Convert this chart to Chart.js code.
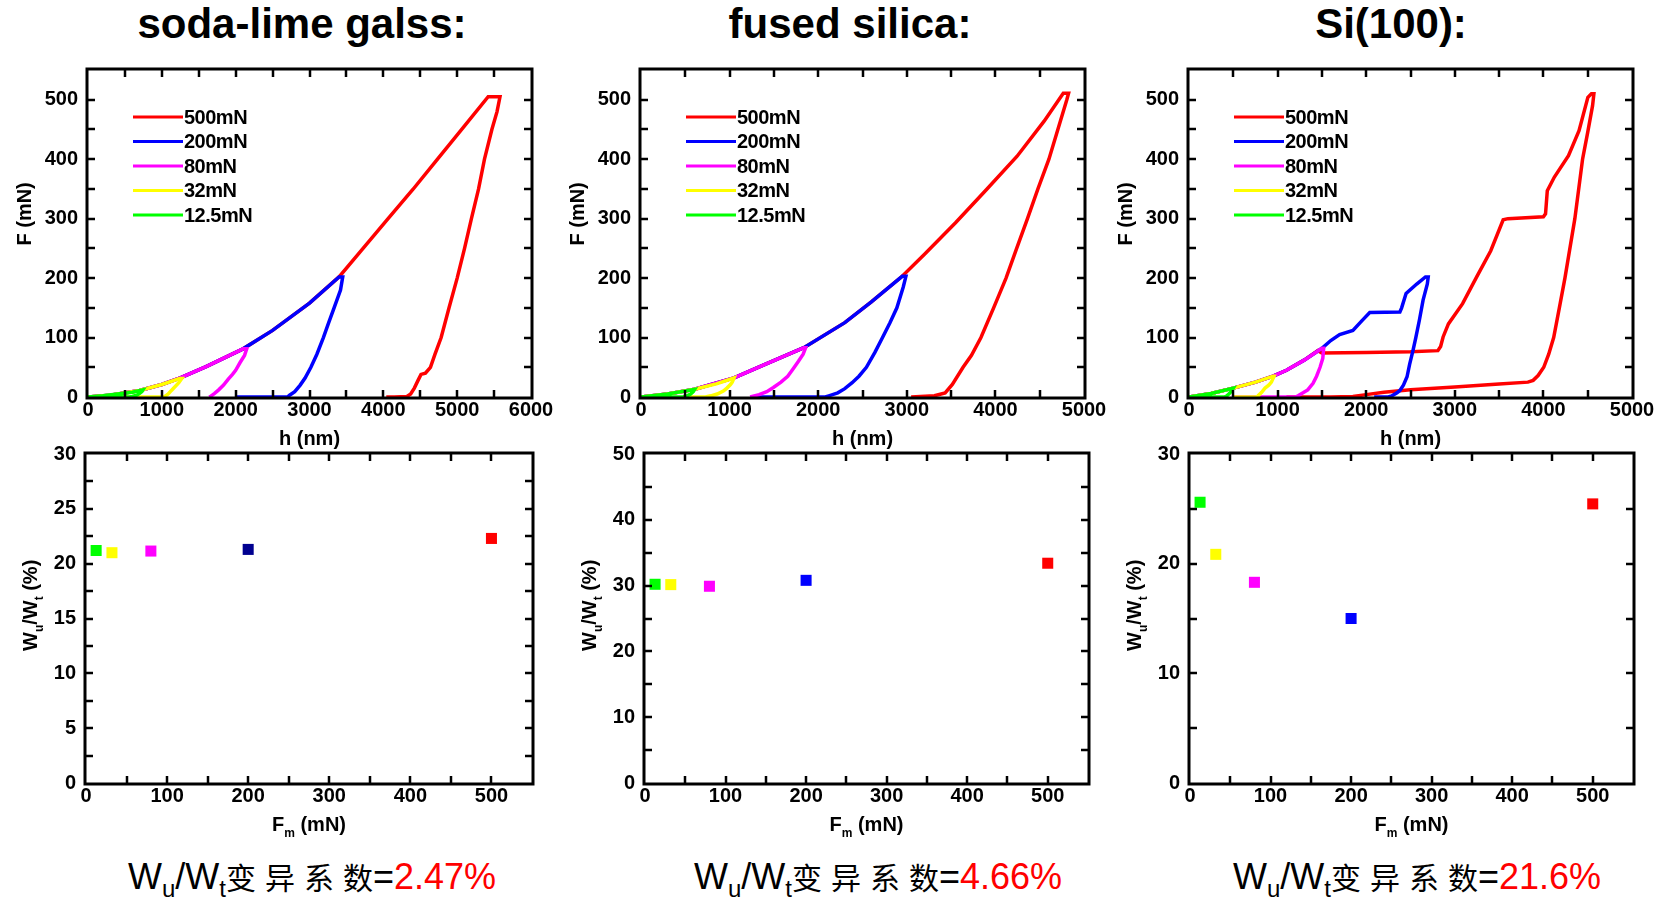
<!DOCTYPE html>
<html lang="zh">
<head>
<meta charset="UTF-8">
<title>压痕 F-h 曲线与 Wu/Wt</title>
<style>
  body { margin: 0; width: 1663px; height: 905px; background: #fff; position: relative; overflow: hidden;
         font-family: "Liberation Sans", Arial, sans-serif; }
  .panel { position: absolute; }
  .head { position: absolute; top: 0; line-height: 48px; font-weight: bold; font-size: 42px;
          transform: translateX(-50%); white-space: nowrap; }
  .note { position: absolute; top: 855px; line-height: 42px; font-size: 36px; color: #000;
          transform: translateX(-50%); white-space: nowrap; }
  .note sub { font-size: 24px; vertical-align: -8px; line-height: 0; }
  .note .cjk { font-family: "Noto Sans CJK SC", sans-serif; font-size: 30px; }
  .note .sp { letter-spacing: 9px; }
  .note .val { color: #ff0000; }
</style>
</head>
<body>
<div class="head" style="left:302px">soda-lime galss:</div>
<div class="head" style="left:850px">fused silica:</div>
<div class="head" style="left:1391px">Si(100):</div>

<div class="note" style="left:312px">W<sub>u</sub>/W<sub>t</sub><span class="cjk"><span class="sp">变异系</span>数</span>=<span class="val">2.47%</span></div>
<div class="note" style="left:878px">W<sub>u</sub>/W<sub>t</sub><span class="cjk"><span class="sp">变异系</span>数</span>=<span class="val">4.66%</span></div>
<div class="note" style="left:1417px">W<sub>u</sub>/W<sub>t</sub><span class="cjk"><span class="sp">变异系</span>数</span>=<span class="val">21.6%</span></div>

<script src="https://cdn.jsdelivr.net/npm/chart.js"></script>
<script>
const FONT = '"Liberation Sans", Arial, sans-serif';

const loadLabels = ['500mN', '200mN', '80mN', '32mN', '12.5mN'];
const lineColors = ['#ff0000', '#0000ff', '#ff00ff', '#ffff00', '#00ff00'];

// soda-lime glass, [h (nm), F (mN)]
const sodaRed = [[0,0],[300,3],[700,11],[1000,21],[1250,32],[1600,51],[2100,81],[2500,112],[3000,158],[3400,202],
  [3700,246],[4050,298],[4400,349],[4720,398],[5100,456],[5420,505],[5580,505],
  [5540,480],[5470,450],[5370,400],[5290,350],[5193,300],[5100,250],[5000,200],[4890,150],[4783,100],
  [4700,72],[4638,50],[4570,40],[4510,38],[4470,28],[4420,15],[4370,5],[4320,1],[4150,0],[4040,0]];
const sodaBlue = [[0,0],[300,3],[700,11],[1000,21],[1250,32],[1600,51],[2100,81],[2500,112],[3000,158],[3400,202],
  [3450,202],[3420,180],[3333,150],[3260,125],[3188,100],[3100,72],[3019,50],[2940,32],[2874,20],[2800,9],
  [2730,3],[2700,0],[2400,0],[2000,0]];
const sodaMagenta = [[0,0],[300,3],[700,11],[1000,21],[1250,32],[1600,51],[2100,81],[2150,81],
  [2120,70],[2060,58],[2000,45],[1957,38],[1900,30],[1836,20],[1770,12],[1715,6],[1660,1],[1640,0]];
const sodaYellow = [[0,0],[300,3],[700,11],[1000,21],[1240,31],[1270,31],
  [1230,24],[1184,18],[1130,11],[1087,5],[1040,1],[1014,0],[480,0]];
const sodaGreen = [[0,0],[200,2],[400,5],[600,8],[745,12],[730,9],[700,6],[660,3],[600,1],[560,0],[300,0],[0,0]];

// fused silica
const fusedRed = [[0,0],[300,5],[606,13],[1050,32],[1400,55],[1838,83],[2300,125],[2600,160],[2948,203],[3200,240],
  [3550,293],[3900,349],[4245,405],[4550,464],[4766,511],[4826,511],
  [4806,500],[4705,450],[4604,400],[4480,350],[4362,300],[4240,250],[4120,200],[3980,150],[3837,100],
  [3730,70],[3635,50],[3514,21],[3433,7],[3312,2],[3049,0]];
const fusedBlue = [[0,0],[300,5],[606,13],[1050,32],[1400,55],[1838,83],[2300,125],[2600,160],[2948,203],
  [2990,203],[2960,185],[2888,150],[2810,125],[2726,100],[2640,75],[2544,50],[2460,35],[2383,24],[2300,14],
  [2221,7],[2120,2],[2080,0],[1300,0]];
const fusedMagenta = [[0,0],[300,5],[606,13],[1050,32],[1400,55],[1838,83],[1858,83],
  [1830,72],[1777,60],[1720,48],[1656,35],[1580,25],[1494,16],[1420,9],[1333,4],[1232,0]];
const fusedYellow = [[0,0],[300,5],[606,13],[850,22],[1050,32],[1060,32],
  [1030,25],[1010,21],[970,15],[929,10],[860,5],[788,2],[727,0],[480,0]];
const fusedGreen = [[0,0],[300,5],[606,13],[590,9],[560,5],[520,2],[480,0],[200,0]];

// Si(100): pop-in plateaus on loading
const siRed = [[0,0],[250,6],[500,15],[750,25],[950,35],[1100,45],[1300,62],[1454,78],
  [1500,74],[2000,75],[2500,76],[2809,78],[2840,85],[2868,101],[2928,123],[3088,157],[3247,202],[3406,246],
  [3546,298],[3600,300],[4000,303],[4024,308],[4044,347],[4124,370],[4283,406],[4402,448],[4502,504],[4542,510],[4570,510],
  [4555,490],[4500,445],[4442,400],[4355,300],[4243,200],[4180,150],[4116,100],[4060,72],[4004,50],[3940,36],
  [3884,28],[3825,25],[3500,22],[3000,17],[2500,12],[2200,8],[2000,4],[1850,1],[1600,0],[1100,0]];
const siBlue = [[0,0],[250,6],[500,15],[750,25],[950,35],[1100,45],[1300,62],[1500,82],
  [1600,95],[1700,105],[1850,112],[1950,128],[2040,142],[2380,143],[2400,150],[2450,174],[2570,190],[2669,202],[2700,202],
  [2690,190],[2642,163],[2600,129],[2560,100],[2529,79],[2490,55],[2461,34],[2420,20],[2380,11],[2348,7],
  [2290,2],[2250,0],[2090,0]];
const siMagenta = [[0,0],[250,6],[500,15],[750,25],[950,35],[1100,45],[1300,62],[1500,82],[1520,82],
  [1510,65],[1479,50],[1440,35],[1400,23],[1340,12],[1287,7],[1231,2],[1200,0],[500,0]];
const siYellow = [[0,0],[250,6],[500,15],[750,25],[950,35],[960,35],
  [930,25],[900,20],[858,15],[820,8],[779,2],[760,0],[500,0]];
const siGreen = [[0,0],[250,6],[500,15],[480,10],[450,5],[420,1],[400,0],[100,0]];

// W_u/W_t (%) against peak load F_m (mN)
const peakLoads = [12.5, 32, 80, 200, 500];
const sodaRatio = [21.2, 21.0, 21.15, 21.3, 22.3];
const fusedRatio = [30.2, 30.15, 29.9, 30.8, 33.4];
const siRatio = [25.6, 20.85, 18.3, 15.0, 25.45];
const markColors = ['#00ff00', '#ffff00', '#ff00ff', '#0000ff', '#ff0000'];
const sodaMarkColors = ['#00ff00', '#ffff00', '#ff00ff', '#000090', '#ff0000'];

const hTitle = [['h (nm)']];
const fTitle = [['F (mN)']];
const fmTitle = [['F'], ['m', true], [' (mN)']];
const wTitle = [['W'], ['u', true], ['/W'], ['t', true], [' (%)']];

// text with subscripts, centred on (x, y)
function drawRich(ctx, parts, x, y, size, vertical) {
  const big = `bold ${size}px ${FONT}`;
  const small = `bold ${Math.round(size * 0.62)}px ${FONT}`;
  ctx.save();
  ctx.translate(x, y);
  if (vertical) ctx.rotate(-Math.PI / 2);
  ctx.fillStyle = '#000';
  ctx.textAlign = 'left';
  ctx.textBaseline = 'alphabetic';
  let w = 0;
  parts.forEach(([t, sub]) => { ctx.font = sub ? small : big; w += ctx.measureText(t).width; });
  let cx = -w / 2;
  parts.forEach(([t, sub]) => {
    ctx.font = sub ? small : big;
    ctx.fillText(t, cx, size * 0.36 + (sub ? size * 0.3 : 0));
    cx += ctx.measureText(t).width;
  });
  ctx.restore();
}

// box frame with inward ticks on all sides, axis titles and the line legend
const framePlugin = {
  id: 'frame',
  afterDatasetsDraw(chart, args, o) {
    const { ctx, chartArea: a } = chart;
    const x = chart.scales.x, y = chart.scales.y;
    ctx.save();
    ctx.strokeStyle = '#000';
    ctx.lineWidth = 2.5;
    ctx.beginPath();
    for (let v = x.min + o.xMinor; v < x.max - 1e-6; v += o.xMinor) {
      const px = Math.round(x.getPixelForValue(v));
      ctx.moveTo(px, a.bottom); ctx.lineTo(px, a.bottom - 7);
      ctx.moveTo(px, a.top); ctx.lineTo(px, a.top + 7);
    }
    for (let v = y.min + o.yMinor; v < y.max - 1e-6; v += o.yMinor) {
      const py = Math.round(y.getPixelForValue(v));
      ctx.moveTo(a.left, py); ctx.lineTo(a.left + 7, py);
      ctx.moveTo(a.right, py); ctx.lineTo(a.right - 7, py);
    }
    ctx.stroke();
    ctx.lineWidth = 3;
    ctx.strokeRect(a.left - 1, a.top - 1, a.right - a.left + 2, a.bottom - a.top + 2);

    drawRich(ctx, o.xTitle, (a.left + a.right) / 2, a.bottom + 41, 20, false);
    drawRich(ctx, o.yTitle, a.left - o.yTitleGap, a.top + (a.bottom - a.top) * o.yTitlePos, 20, true);

    if (o.legend) {
      ctx.font = `bold 20px ${FONT}`;
      ctx.letterSpacing = '-0.5px';
      ctx.textAlign = 'left';
      ctx.textBaseline = 'middle';
      chart.data.datasets.forEach((ds, i) => {
        const yy = a.top + 47 + i * 24.5;
        ctx.strokeStyle = ds.borderColor;
        ctx.lineWidth = 3;
        ctx.beginPath(); ctx.moveTo(a.left + 45, yy); ctx.lineTo(a.left + 95, yy); ctx.stroke();
        ctx.fillStyle = '#000';
        ctx.fillText(ds.label, a.left + 96, yy + 1);
      });
    }
    ctx.restore();
  }
};

function axis(min, max, step, pad) {
  return {
    type: 'linear', min, max,
    grid: { display: false, drawTicks: false },
    border: { display: false },
    ticks: { stepSize: step, includeBounds: false, autoSkip: false, maxRotation: 0, padding: pad,
             color: '#000', font: { family: FONT, size: 20, weight: 'bold' },
             callback: v => String(v) },
    afterFit: s => { if (s.isHorizontal()) s.height = 55; else s.width = 80; }
  };
}

// chart area lands exactly on box = [left, top, right, bottom] in page pixels
function makePanel(box, config) {
  const [l, t, r, b] = box;
  const div = document.createElement('div');
  div.className = 'panel';
  div.style.left = (l - 80) + 'px';
  div.style.top = (t - 30) + 'px';
  div.style.width = (r - l + 110) + 'px';
  div.style.height = (b - t + 85) + 'px';
  const cv = document.createElement('canvas');
  div.appendChild(cv);
  document.body.appendChild(div);
  config.options.responsive = true;
  config.options.maintainAspectRatio = false;
  config.options.animation = false;
  config.options.events = [];
  config.options.layout = { padding: { top: 30, right: 30, left: 0, bottom: 0 } };
  config.plugins = [framePlugin];
  return new Chart(cv, config);
}

function curveChart(box, curves, xMax) {
  makePanel(box, {
    type: 'scatter',
    data: {
      datasets: curves.map((pts, i) => ({
        label: loadLabels[i], data: pts, showLine: true,
        borderColor: lineColors[i], backgroundColor: lineColors[i],
        borderWidth: 3.5, pointRadius: 0, order: curves.length - i
      }))
    },
    options: {
      scales: { x: axis(0, xMax, 1000, 1), y: axis(0, 550, 100, 10) },
      plugins: {
        legend: { display: false }, tooltip: { enabled: false },
        frame: { xMinor: 500, yMinor: 50, xTitle: hTitle, yTitle: fTitle, yTitleGap: 64, yTitlePos: 0.44, legend: true }
      }
    }
  });
}

function ratioChart(box, ratios, colors, yMax, yStep, yMinor) {
  makePanel(box, {
    type: 'scatter',
    data: {
      datasets: [{
        data: peakLoads.map((f, i) => [f, ratios[i]]),
        pointStyle: 'rect', pointRadius: 7.8, pointBorderWidth: 0,
        pointBackgroundColor: colors, pointBorderColor: colors
      }]
    },
    options: {
      scales: { x: axis(0, 550, 100, 1), y: axis(0, yMax, yStep, 10) },
      plugins: {
        legend: { display: false }, tooltip: { enabled: false },
        frame: { xMinor: 50, yMinor: yMinor, xTitle: fmTitle, yTitle: wTitle, yTitleGap: 56, yTitlePos: 0.46, legend: false }
      }
    }
  });
}

curveChart([88, 70, 531, 397], [sodaRed, sodaBlue, sodaMagenta, sodaYellow, sodaGreen], 6000);
curveChart([641, 70, 1084, 397], [fusedRed, fusedBlue, fusedMagenta, fusedYellow, fusedGreen], 5000);
curveChart([1189, 70, 1632, 397], [siRed, siBlue, siMagenta, siYellow, siGreen], 5000);

ratioChart([86, 454, 532, 783], sodaRatio, sodaMarkColors, 30, 5, 2.5);
ratioChart([645, 454, 1088, 783], fusedRatio, markColors, 50, 10, 5);
ratioChart([1190, 454, 1633, 783], siRatio, markColors, 30, 10, 5);
</script>
</body>
</html>
